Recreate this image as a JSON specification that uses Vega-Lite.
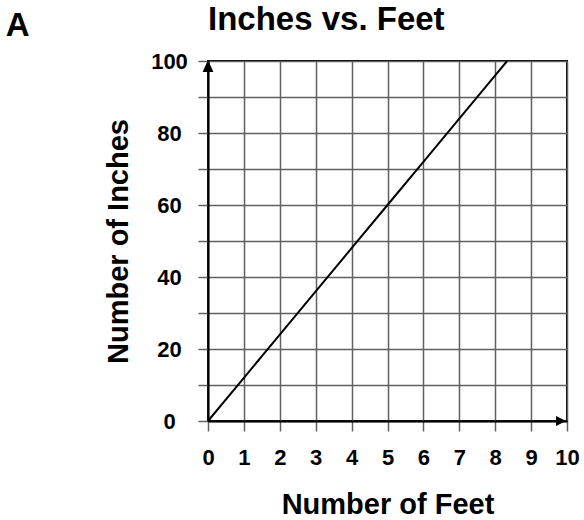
{
  "$schema": "https://vega.github.io/schema/vega-lite/v6.json",
  "autosize": "none",
  "width": 359,
  "height": 360,
  "padding": {"left": 208, "top": 61, "right": 17, "bottom": 99},
  "background": "white",
  "title": {
    "text": "Inches vs. Feet",
    "anchor": "start",
    "frame": "group",
    "font": "Liberation Sans",
    "fontSize": 33,
    "fontWeight": "bold",
    "color": "black",
    "baseline": "alphabetic",
    "offset": -22,
    "dy": 31
  },
  "config": {
    "view": {"stroke": "black", "strokeWidth": 2},
    "axis": {
      "labelFont": "Liberation Sans",
      "labelFontWeight": "bold",
      "labelFontSize": 22,
      "labelColor": "black",
      "titleFont": "Liberation Sans",
      "titleFontWeight": "bold",
      "titleFontSize": 29,
      "titleColor": "black",
      "domainColor": "black",
      "domainWidth": 2,
      "gridColor": "#606060",
      "gridWidth": 1.5,
      "gridOpacity": 1,
      "tickColor": "#606060",
      "tickWidth": 1.5,
      "tickSize": 10
    }
  },
  "datasets": {
    "line": [
      {"feet": 0, "inches": 0},
      {"feet": 1, "inches": 12},
      {"feet": 2, "inches": 24},
      {"feet": 3, "inches": 36},
      {"feet": 4, "inches": 48},
      {"feet": 5, "inches": 60},
      {"feet": 6, "inches": 72},
      {"feet": 7, "inches": 84},
      {"feet": 8, "inches": 96},
      {"feet": 8.333, "inches": 100}
    ],
    "arrowUp": [{"feet": 0, "inches": 100}],
    "arrowRight": [{"feet": 10, "inches": 0}],
    "panel": [{"feet": -5.3, "inches": 107, "label": "A"}]
  },
  "encoding": {
    "x": {
      "field": "feet",
      "type": "quantitative",
      "scale": {"domain": [0, 10], "nice": false},
      "axis": {
        "title": "Number of Feet",
        "values": [0, 1, 2, 3, 4, 5, 6, 7, 8, 9, 10],
        "labelPadding": 16,
        "titlePadding": 22,
        "labelFlush": false,
        "labelOverlap": false
      }
    },
    "y": {
      "field": "inches",
      "type": "quantitative",
      "scale": {"domain": [0, 100], "nice": false},
      "axis": {
        "title": "Number of Inches",
        "values": [0, 10, 20, 30, 40, 50, 60, 70, 80, 90, 100],
        "labelExpr": "datum.value % 20 == 0 ? datum.label : ''",
        "labelAlign": "center",
        "labelBaseline": "middle",
        "labelPadding": 29,
        "labelFlush": false,
        "labelOverlap": false,
        "titlePadding": 17
      }
    }
  },
  "layer": [
    {
      "data": {"name": "line"},
      "mark": {"type": "line", "color": "black", "strokeWidth": 2}
    },
    {
      "data": {"name": "arrowUp"},
      "mark": {"type": "point", "shape": "M0,-1L0.9,1L-0.9,1Z", "size": 144, "filled": true, "color": "black", "opacity": 1, "yOffset": 5}
    },
    {
      "data": {"name": "arrowRight"},
      "mark": {"type": "point", "shape": "M1,0L-1,1L-1,-1Z", "size": 100, "filled": true, "color": "black", "opacity": 1, "xOffset": -6}
    },
    {
      "data": {"name": "panel"},
      "mark": {"type": "text", "font": "Liberation Sans", "fontSize": 33, "fontWeight": "bold", "color": "black", "align": "center", "baseline": "alphabetic"},
      "encoding": {
        "text": {"field": "label"}
      }
    }
  ]
}
